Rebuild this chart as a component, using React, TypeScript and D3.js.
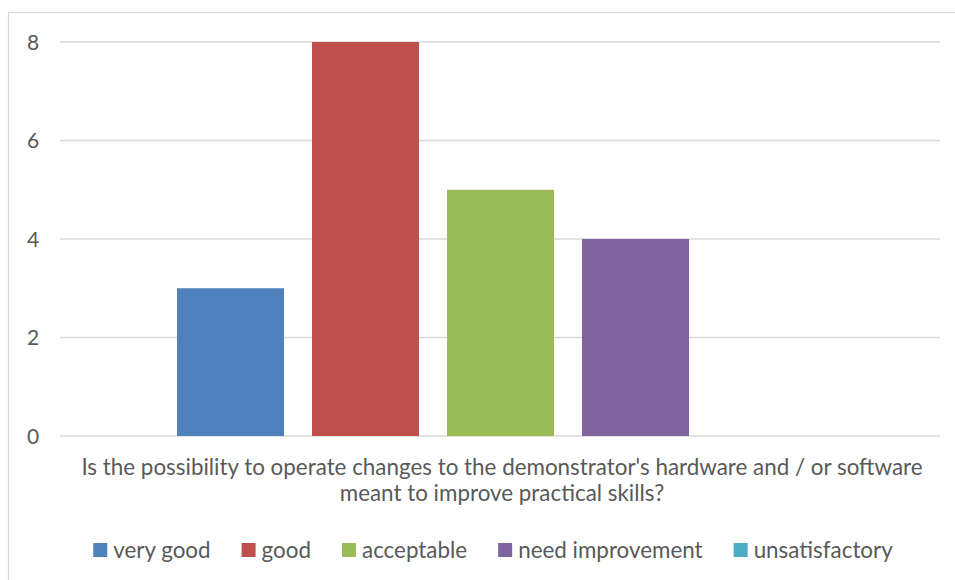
import React, { useEffect, useRef } from "react";
import * as d3 from "d3";

const categories = ["very good", "good", "acceptable", "need improvement", "unsatisfactory"];
const values = [3, 8, 5, 4, 0];
const colors = ["#4f81bd", "#c0504d", "#9bbb59", "#8064a2", "#4bacc6"];
const yTicks = [0, 2, 4, 6, 8];
const titleLines = [
  "Is the possibility to operate changes to the demonstrator's hardware and / or software",
  "meant to improve practical skills?",
];

const W = 955;
const H = 580;
const FONT = "Lato, 'Open Sans', sans-serif";

export default function App() {
  const ref = useRef<SVGSVGElement | null>(null);

  useEffect(() => {
    const svg = d3.select(ref.current);
    svg.selectAll("*").remove();

    const left = 60, right = 940, top = 42, bottom = 436;
    const y = d3.scaleLinear().domain([0, 8]).range([bottom, top]);

    // border
    svg
      .append("rect")
      .attr("x", 8.5)
      .attr("y", 12.5)
      .attr("width", 1000)
      .attr("height", 1000)
      .attr("fill", "#fff")
      .attr("stroke", "#d9d9d9")
      .attr("stroke-width", 1.3);

    const g = svg.append("g");

    // gridlines
    g.selectAll("line.grid")
      .data(yTicks)
      .join("line")
      .attr("x1", left)
      .attr("x2", right)
      .attr("y1", (d) => y(d))
      .attr("y2", (d) => y(d))
      .attr("stroke", "#d9d9d9")
      .attr("stroke-width", 1.5);

    // tick labels
    g.selectAll("text.tick")
      .data(yTicks)
      .join("text")
      .attr("x", 33)
      .attr("y", (d) => y(d))
      .attr("dy", "0.36em")
      .attr("text-anchor", "middle")
      .attr("fill", "#595959")
      .attr("font-family", FONT)
      .attr("font-size", 21)
      .text((d) => String(d));

    // bars
    const bx = d3
      .scaleBand<string>()
      .domain(categories)
      .range([177 - 14, 824 + 14])
      .paddingInner(28 / 135)
      .paddingOuter(14 / 135);
    g.selectAll("rect.bar")
      .data(values)
      .join("rect")
      .attr("x", (_, i) => bx(categories[i])!)
      .attr("width", bx.bandwidth())
      .attr("y", (d) => y(d))
      .attr("height", (d) => y(0) - y(d))
      .attr("fill", (_, i) => colors[i]);

    // axis title
    g.selectAll("text.title")
      .data(titleLines)
      .join("text")
      .attr("x", 502)
      .attr("y", (_, i) => 475 + i * 26)
      .attr("text-anchor", "middle")
      .attr("fill", "#595959")
      .attr("font-family", FONT)
      .attr("font-size", 22.4)
      .text((d) => d);

    // legend
    const lg = svg.append("g");
    const items = lg.selectAll("g.item").data(categories).join("g");
    items
      .append("rect")
      .attr("width", 14)
      .attr("height", 14)
      .attr("y", -7)
      .attr("fill", (_, i) => colors[i]);
    items
      .append("text")
      .attr("x", 20)
      .attr("dy", "0.35em")
      .attr("fill", "#595959")
      .attr("font-family", FONT)
      .attr("font-size", 22.4)
      .text((d) => d);
    const widths: number[] = [];
    items.each(function () {
      const t = d3.select(this).select("text").node() as SVGTextElement;
      widths.push(20 + t.getComputedTextLength());
    });
    const gap = 31;
    const total = d3.sum(widths) + gap * (widths.length - 1);
    let cx = 493 - total / 2;
    items.attr("transform", (_, i) => {
      const tx = cx;
      cx += widths[i] + gap;
      return `translate(${tx},550)`;
    });
  }, []);

  return (
    <svg
      ref={ref}
      width={W}
      height={H}
      style={{ position: "absolute", left: 0, top: 0, display: "block" }}
    />
  );
}
